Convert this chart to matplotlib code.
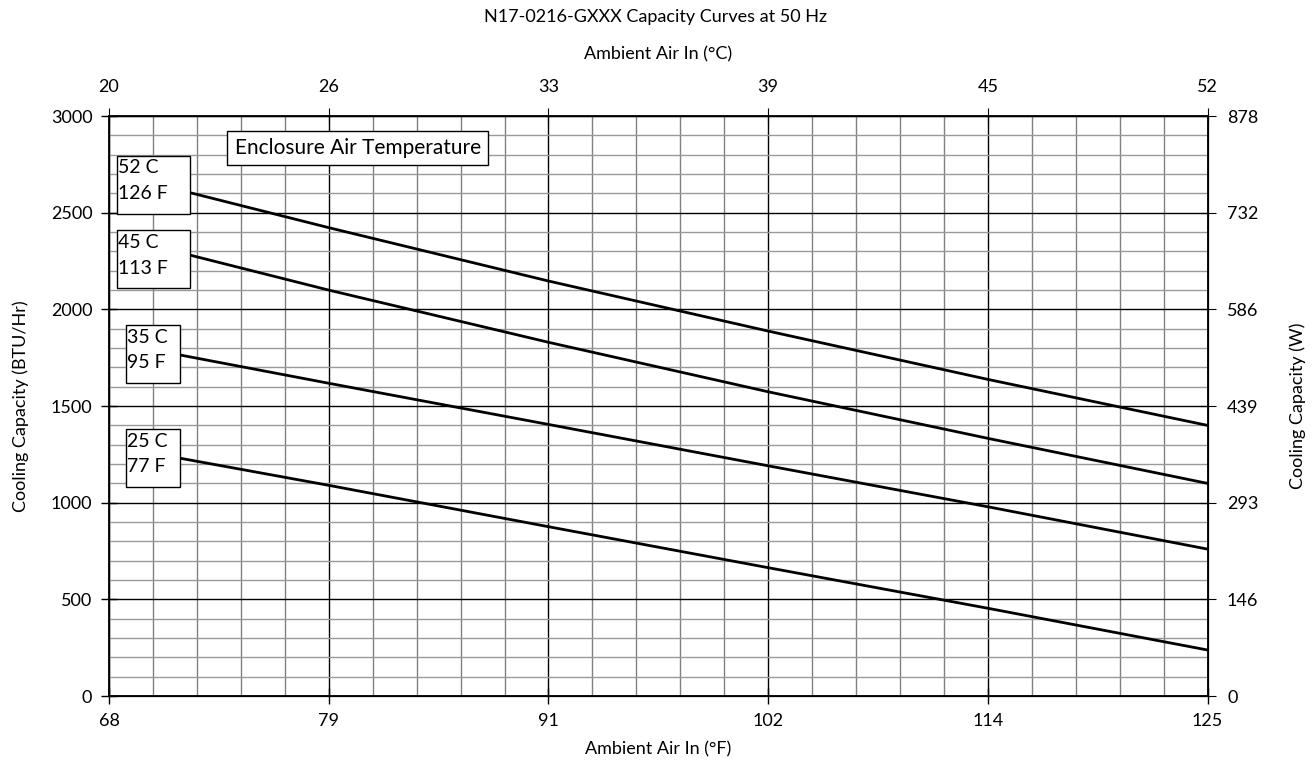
import numpy as np
import matplotlib
matplotlib.use("Agg")
import matplotlib.pyplot as plt
from matplotlib.patches import Rectangle
from matplotlib.ticker import FixedLocator

plt.rcParams['font.family'] = ['Lato', 'DejaVu Sans']

# 数据
f_labels = ['68', '79', '91', '102', '114', '125']
c_labels = ['20', '26', '33', '39', '45', '52']
btu_ticks = [0, 500, 1000, 1500, 2000, 2500, 3000]
w_labels = ['0', '146', '293', '439', '586', '732', '878']

x_hi = [72.2, 79.4, 90.8, 102.2, 113.6, 125]
x_lo = [71.7, 79.4, 90.8, 102.2, 113.6, 125]
cap_52c = [2604, 2423, 2147, 1888, 1638, 1400]
cap_45c = [2281, 2100, 1830, 1574, 1333, 1100]
cap_35c = [1764, 1618, 1405, 1191, 979, 760]
cap_25c = [1230, 1090, 876, 664, 454, 238]

curves = [
    ("52 C", "126 F", x_hi, cap_52c),
    ("45 C", "113 F", x_hi, cap_45c),
    ("35 C", "95 F", x_lo, cap_35c),
    ("25 C", "77 F", x_lo, cap_25c),
]
# 标签框底边 (BTU/Hr)
box_bottoms = [2495, 2109, 1618, 1081]

fs = 13

fig = plt.figure(figsize=(13.12, 7.69), dpi=100)
ax = fig.add_axes([0.0831, 0.0949, 0.8373, 0.7541])

x_major = np.linspace(68, 125, 6)
ax.set_xlim(68, 125)
ax.set_ylim(0, 3000)
ax.xaxis.set_major_locator(FixedLocator(x_major))
ax.xaxis.set_minor_locator(FixedLocator(np.linspace(68, 125, 26)))
ax.yaxis.set_major_locator(FixedLocator(btu_ticks))
ax.yaxis.set_minor_locator(FixedLocator(np.arange(0, 3001, 100)))
ax.set_xticklabels(f_labels)

# 网格
ax.set_axisbelow(True)
ax.grid(which='minor', axis='x', color='#808080', linewidth=1)
ax.grid(which='minor', axis='y', color='#999999', linewidth=1)
ax.grid(which='major', color='black', linewidth=1)
ax.tick_params(which='minor', length=0)
ax.tick_params(which='major', direction='inout', length=12, width=1,
               labelsize=fs, colors='black', pad=6)

for s in ax.spines.values():
    s.set_linewidth(1.3)

# 曲线 + 标签框
box_h = 300
for (top_txt, bot_txt, xs, ys), y_bot in zip(curves, box_bottoms):
    ax.plot(xs, ys, color='black', linewidth=2, solid_capstyle='butt', zorder=3)
    x0 = 68.4 if xs[0] > 72 else 68.9
    ax.add_patch(Rectangle((x0, y_bot), xs[0] - x0, box_h, facecolor='white',
                           edgecolor='black', linewidth=1, zorder=4))
    ax.text(x0 + 0.05, y_bot + 0.79 * box_h, top_txt, fontsize=14,
            va='center', ha='left', zorder=5)
    ax.text(x0 + 0.05, y_bot + 0.35 * box_h, bot_txt, fontsize=14,
            va='center', ha='left', zorder=5)

ax.text(80.9, 2835, "Enclosure Air Temperature", fontsize=15, ha='center',
        va='center', zorder=5,
        bbox=dict(boxstyle='square,pad=0.35', facecolor='white',
                  edgecolor='black', linewidth=1))

ax.set_xlabel("Ambient Air In (°F)", fontsize=fs, labelpad=9)
ax.set_ylabel("Cooling Capacity (BTU/Hr)", fontsize=fs, labelpad=16)

# 顶部 °C 轴
axt = ax.twiny()
axt.set_xlim(68, 125)
axt.xaxis.set_major_locator(FixedLocator(x_major))
axt.set_xticklabels(c_labels)
axt.tick_params(direction='inout', length=12, labelsize=fs, pad=9)
axt.set_xlabel("Ambient Air In (°C)", fontsize=fs, labelpad=14)

# 右侧 W 轴
axr = ax.twinx()
axr.set_ylim(0, 3000)
axr.yaxis.set_major_locator(FixedLocator(btu_ticks))
axr.set_yticklabels(w_labels)
axr.tick_params(direction='inout', length=12, labelsize=fs, pad=8)
axr.set_ylabel("Cooling Capacity (W)", fontsize=fs, labelpad=22)

fig.suptitle("N17-0216-GXXX Capacity Curves at 50 Hz", fontsize=fs, y=0.988)

fig.savefig("out.png", dpi=100)
